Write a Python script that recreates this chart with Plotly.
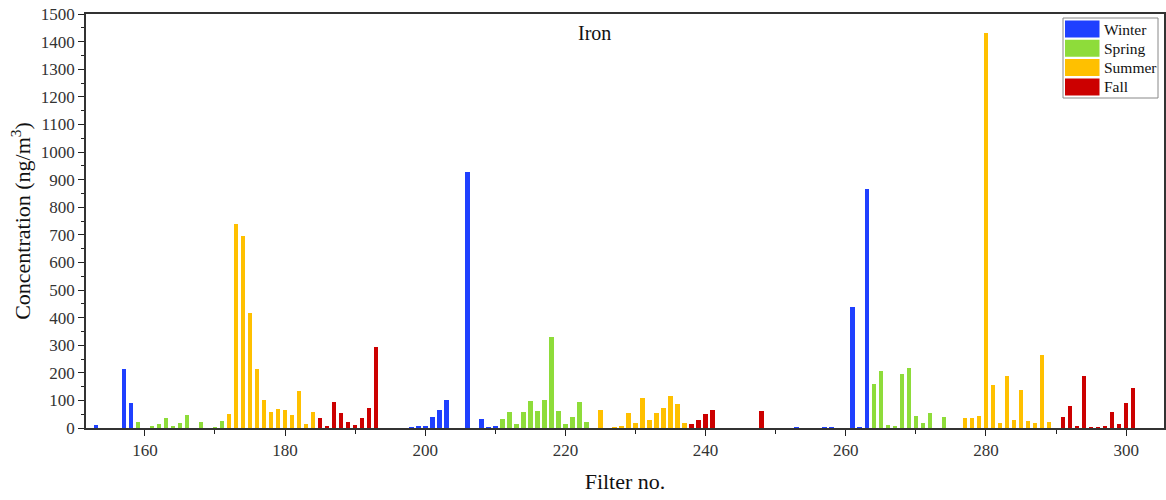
import plotly.graph_objects as go

# Iron concentration per filter, grouped by sampling season
winter_filters = [153, 157, 158, 198, 199, 200, 201, 202, 203, 206, 208, 209, 210,
                  253, 257, 258, 261, 262, 263]
winter_values = [12, 214, 90, 3, 5, 8, 40, 66, 103, 926, 34, 3, 4,
                 3, 3, 2, 437, 3, 865]

spring_filters = [159, 161, 162, 163, 164, 165, 166, 168, 170, 171,
                  211, 212, 213, 214, 215, 216, 217, 218, 219, 220, 221, 222, 223,
                  264, 265, 266, 267, 268, 269, 270, 271, 272, 274]
spring_values = [22, 8, 16, 36, 8, 17, 46, 22, 2, 24,
                 34, 58, 13, 58, 98, 62, 100, 330, 62, 13, 40, 94, 22,
                 160, 206, 10, 7, 194, 219, 43, 19, 53, 40]

summer_filters = [172, 173, 174, 175, 176, 177, 178, 179, 180, 181, 182, 183, 184,
                  225, 227, 228, 229, 230, 231, 232, 233, 234, 235, 236, 237,
                  277, 278, 279, 280, 281, 282, 283, 284, 285, 286, 287, 288, 289]
summer_values = [50, 738, 694, 417, 213, 100, 58, 68, 64, 46, 133, 16, 58,
                 64, 3, 4, 54, 19, 110, 28, 54, 74, 115, 86, 19,
                 35, 35, 43, 1430, 157, 17, 187, 30, 136, 24, 18, 266, 23]

fall_filters = [185, 186, 187, 188, 189, 190, 191, 192, 193,
                238, 239, 240, 241, 248,
                291, 292, 293, 294, 295, 296, 297, 298, 299, 300, 301]
fall_values = [38, 7, 94, 54, 22, 11, 37, 73, 293,
               13, 28, 50, 64, 60,
               41, 78, 6, 190, 3, 3, 4, 58, 13, 90, 146]

seasons = ["Winter", "Spring", "Summer", "Fall"]
season_colors = ["#1F40FF", "#8EDC3A", "#FFC000", "#CC0000"]
season_data = [
    (winter_filters, winter_values),
    (spring_filters, spring_values),
    (summer_filters, summer_values),
    (fall_filters, fall_values),
]

FONT = "Liberation Serif"
W, H = 1166, 500
M_L, M_R, M_T, M_B = 86, 2, 14, 72
PLOT_W = W - M_L - M_R
PLOT_H = H - M_T - M_B


def px_x(p):
    return (p - M_L) / PLOT_W


def px_y(p):
    return (H - M_B - p) / PLOT_H


fig = go.Figure()
for name, color, (xs, ys) in zip(seasons, season_colors, season_data):
    fig.add_trace(go.Bar(
        x=xs, y=ys, name=name, width=0.66,
        marker=dict(color=color, line=dict(width=0)),
        showlegend=False,
    ))

# Boxed legend with large colour swatches in the upper-right corner
shapes = [dict(type="rect", xref="paper", yref="paper",
               x0=px_x(1063), x1=px_x(1158), y0=px_y(98), y1=px_y(18),
               line=dict(color="#888888", width=1), fillcolor="white", layer="above")]
annotations = []
row_top = 20.5
row_h = 19.3
for i, (name, color) in enumerate(zip(seasons, season_colors)):
    top = row_top + i * row_h
    shapes.append(dict(type="rect", xref="paper", yref="paper",
                       x0=px_x(1065), x1=px_x(1099.5), y0=px_y(top + 17), y1=px_y(top),
                       line=dict(width=0), fillcolor=color, layer="above"))
    annotations.append(dict(xref="paper", yref="paper", x=px_x(1102), y=px_y(top + 8.5),
                            text=name, showarrow=False, xanchor="left", yanchor="middle",
                            font=dict(family=FONT, size=15.5, color="#111111")))

annotations.append(dict(xref="paper", yref="paper", x=px_x(594), y=px_y(33),
                        text="Iron", showarrow=False, xanchor="center", yanchor="middle",
                        font=dict(family=FONT, size=20, color="#111111")))

fig.update_layout(
    width=W, height=H,
    margin=dict(l=M_L, r=M_R, t=M_T, b=M_B, autoexpand=False),
    paper_bgcolor="white", plot_bgcolor="white",
    bargap=0.0,
    font=dict(family=FONT, color="#222222"),
    shapes=shapes,
    annotations=annotations,
)

fig.update_xaxes(
    range=[151.6, 305.4],
    tickmode="linear", tick0=160, dtick=20,
    ticks="outside", ticklen=6, tickwidth=1.2, tickcolor="#222222",
    minor=dict(tickmode="linear", tick0=150, dtick=10, ticks="outside",
               ticklen=4, tickwidth=1.2, tickcolor="#222222", showgrid=False),
    showline=True, linecolor="#333333", linewidth=1.5, mirror=True,
    showgrid=False, zeroline=False,
    tickfont=dict(family=FONT, size=17, color="#333333"),
    title=dict(text="Filter no.", font=dict(family=FONT, size=22, color="#111111"), standoff=14),
)

fig.update_yaxes(
    range=[0, 1500],
    tickmode="linear", tick0=0, dtick=100,
    ticks="outside", ticklen=6, tickwidth=1.2, tickcolor="#222222",
    minor=dict(tickmode="linear", tick0=0, dtick=50, ticks="outside",
               ticklen=3, tickwidth=1.2, tickcolor="#222222", showgrid=False),
    showline=True, linecolor="#333333", linewidth=1.5, mirror=True,
    showgrid=False, zeroline=False,
    tickfont=dict(family=FONT, size=17, color="#333333"),
    title=dict(text="Concentration (ng/m<sup>3</sup>)",
               font=dict(family=FONT, size=22, color="#111111"), standoff=4),
)

fig.write_html("out.html")
